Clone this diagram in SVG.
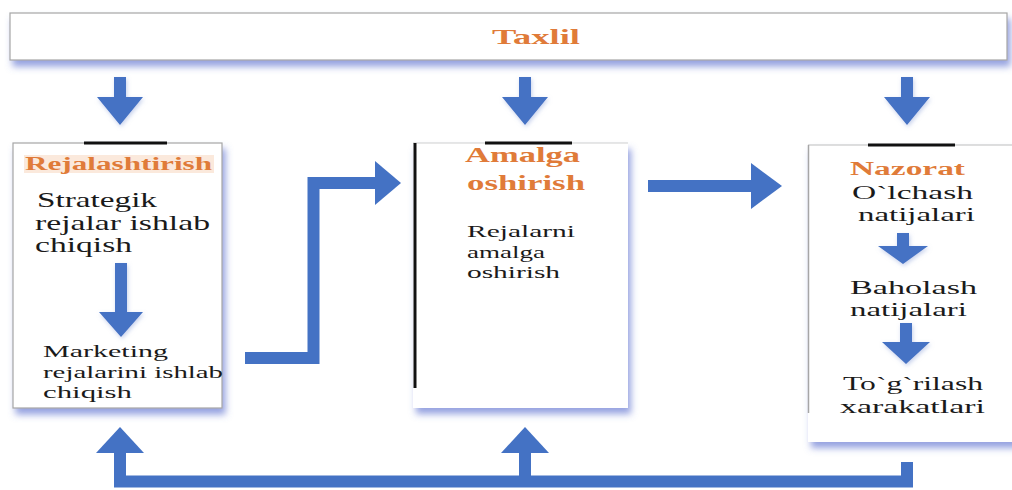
<svg xmlns="http://www.w3.org/2000/svg" width="1012" height="490" viewBox="0 0 1012 490">
<defs>
<filter id="sh" x="-10%" y="-10%" width="130%" height="140%">
<feDropShadow dx="3" dy="6" stdDeviation="3.5" flood-color="#5b6fcf" flood-opacity="0.65"/>
</filter>
<filter id="ash" x="-30%" y="-30%" width="160%" height="160%">
<feDropShadow dx="1" dy="2" stdDeviation="2" flood-color="#8fa3d9" flood-opacity="0.5"/>
</filter>
<style>
.box{fill:#ffffff;stroke:#a6a6a6;stroke-width:1.2}
text{font-family:"Liberation Serif",serif}
.ttl{font-weight:bold;fill:#e07b39}
.txt{fill:#1a1a1a}
.blk{stroke:#111111;stroke-width:3}
.arr{fill:#4472c4}
.con{fill:none;stroke:#4472c4;stroke-width:12;stroke-linejoin:miter}
</style>
</defs>
<rect width="1012" height="490" fill="#ffffff"/>

<g id="taxlil">
<rect class="box" x="10" y="13" width="997" height="47" filter="url(#sh)"/>
<text class="ttl" x="492" y="44" font-size="22" textLength="88" lengthAdjust="spacingAndGlyphs">Taxlil</text>
</g>

<g id="rejalashtirish">
<rect class="box" x="13" y="143" width="209" height="265" filter="url(#sh)"/>
<line class="blk" x1="84" y1="143" x2="167" y2="143"/>
<rect x="24" y="155" width="190" height="18" fill="#fbe9dc"/>
<text class="ttl" x="25" y="170" font-size="18" textLength="187" lengthAdjust="spacingAndGlyphs">Rejalashtirish</text>
<text class="txt" x="37" y="207" font-size="21" textLength="120" lengthAdjust="spacingAndGlyphs">Strategik</text>
<text class="txt" x="35" y="230" font-size="21" textLength="175" lengthAdjust="spacingAndGlyphs">rejalar ishlab</text>
<text class="txt" x="35" y="252" font-size="21" textLength="97" lengthAdjust="spacingAndGlyphs">chiqish</text>
<polygon class="arr" filter="url(#ash)" points="115,263 127,263 127,312 143,312 121,337 99,312 115,312"/>
<text class="txt" x="43" y="357" font-size="17" textLength="125" lengthAdjust="spacingAndGlyphs">Marketing</text>
<text class="txt" x="43" y="378" font-size="17" textLength="180" lengthAdjust="spacingAndGlyphs">rejalarini ishlab</text>
<text class="txt" x="43" y="398" font-size="17" textLength="89" lengthAdjust="spacingAndGlyphs">chiqish</text>
</g>

<g id="amalga">
<rect x="413" y="143" width="215" height="265" fill="#ffffff" filter="url(#sh)"/>
<line x1="413" y1="143" x2="628" y2="143" stroke="#cfcfcf" stroke-width="1"/>
<line x1="415" y1="143" x2="415" y2="388" stroke="#111111" stroke-width="3"/>
<line class="blk" x1="485" y1="143" x2="572" y2="143"/>
<text class="ttl" x="465" y="162" font-size="22" textLength="115" lengthAdjust="spacingAndGlyphs">Amalga</text>
<text class="ttl" x="467" y="190" font-size="22" textLength="118" lengthAdjust="spacingAndGlyphs">oshirish</text>
<text class="txt" x="467" y="237" font-size="17" textLength="108" lengthAdjust="spacingAndGlyphs">Rejalarni</text>
<text class="txt" x="467" y="258" font-size="17" textLength="78" lengthAdjust="spacingAndGlyphs">amalga</text>
<text class="txt" x="467" y="278" font-size="17" textLength="93" lengthAdjust="spacingAndGlyphs">oshirish</text>
</g>

<g id="nazorat">
<rect x="808" y="145" width="210" height="297" fill="#ffffff" filter="url(#sh)"/>
<line x1="808" y1="145" x2="1012" y2="145" stroke="#bdbdbd" stroke-width="1.2"/>
<line x1="808.5" y1="145" x2="808.5" y2="413" stroke="#a6a6a6" stroke-width="1.5"/>
<line class="blk" x1="868" y1="145" x2="955" y2="145"/>
<text class="ttl" x="850" y="175" font-size="18" textLength="115" lengthAdjust="spacingAndGlyphs">Nazorat</text>
<text class="txt" x="852" y="199" font-size="19" textLength="121" lengthAdjust="spacingAndGlyphs">O`lchash</text>
<text class="txt" x="858" y="221" font-size="19" textLength="117" lengthAdjust="spacingAndGlyphs">natijalari</text>
<polygon class="arr" filter="url(#ash)" points="897,233 909,233 909,246 928,246 903,264 878,246 897,246"/>
<text class="txt" x="850" y="294" font-size="19" textLength="127" lengthAdjust="spacingAndGlyphs">Baholash</text>
<text class="txt" x="850" y="316" font-size="19" textLength="117" lengthAdjust="spacingAndGlyphs">natijalari</text>
<polygon class="arr" filter="url(#ash)" points="900,323 912,323 912,342 930,342 906,364 882,342 900,342"/>
<text class="txt" x="843" y="390" font-size="19" textLength="140" lengthAdjust="spacingAndGlyphs">To`g`rilash</text>
<text class="txt" x="840" y="413" font-size="19" textLength="145" lengthAdjust="spacingAndGlyphs">xarakatlari</text>
</g>

<g id="connectors">
<polygon class="arr" filter="url(#ash)" points="114,77 126,77 126,97 143,97 120,125 97,97 114,97"/>
<polygon class="arr" filter="url(#ash)" points="519,77 531,77 531,97 548,97 525,125 502,97 519,97"/>
<polygon class="arr" filter="url(#ash)" points="901,77 913,77 913,97 930,97 907,125 884,97 901,97"/>
<path class="con" d="M245,358 H313.5 V183 H376"/>
<polygon class="arr" points="375,161 401,183 375,205"/>
<path class="con" d="M648,186 H753"/>
<polygon class="arr" points="751,163 782,186 751,209"/>
<path class="con" d="M907,462 V481.5 H120 V452"/>
<path class="con" d="M525,481.5 V452"/>
<polygon class="arr" points="96,453 120,427 144,453"/>
<polygon class="arr" points="501,453 525,427 549,453"/>
</g>
</svg>
